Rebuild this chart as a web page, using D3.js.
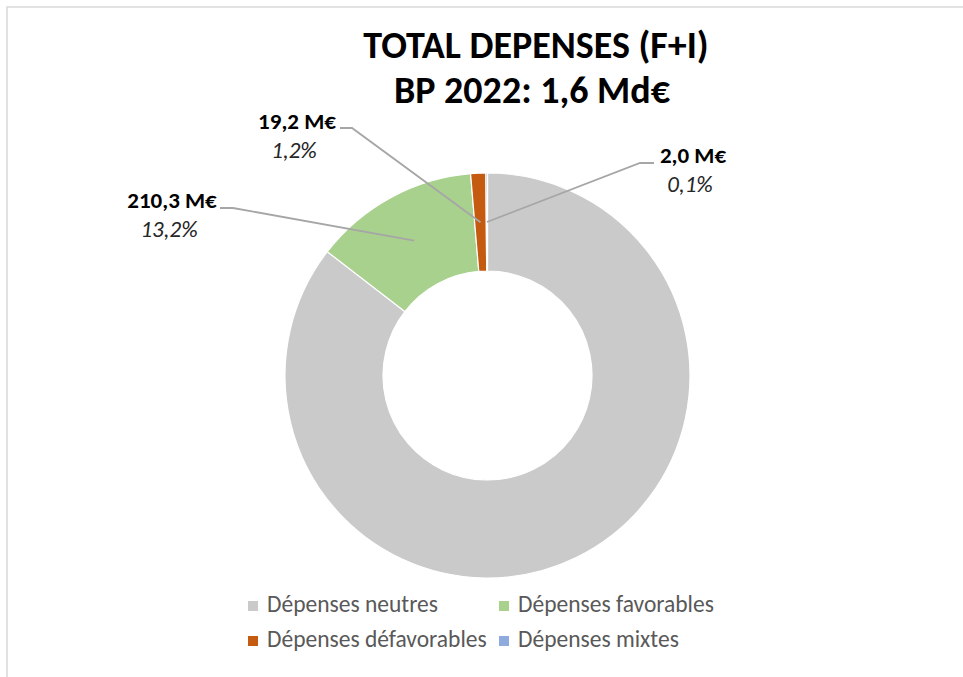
<!DOCTYPE html>
<html>
<head>
<meta charset="utf-8">
<script src="https://cdn.jsdelivr.net/npm/d3@7"></script>
<style>
  html, body { margin: 0; padding: 0; background: #fff; }
  svg { display: block; font-family: Carlito, Calibri, Lato, sans-serif; }
</style>
</head>
<body>
<div class="chart"></div>
<script>
// chart data
const categories = ["Dépenses neutres", "Dépenses favorables", "Dépenses défavorables", "Dépenses mixtes"];
const amounts = [1362.0, 210.3, 19.2, 2.0]; // M€
const amountLabels = ["", "210,3 M€", "19,2 M€", "2,0 M€"];
const percentLabels = ["", "13,2%", "1,2%", "0,1%"];
const colors = ["#cacaca", "#a9d18e", "#c55a11", "#8faadc"];
const titleLines = ["TOTAL DEPENSES (F+I)", "BP 2022: 1,6 Md€"];

const width = 963, height = 677;
const cx = 487.5, cy = 375.5;
const outerR = 202.5, innerR = 104.5;

// where each data label sits (center x, baseline of the first line) and where its leader elbows
const labelPos = [
  null,
  { x: 172, y: 208, elbowX: 233, lineX: 220, lineY: 208 },
  { x: 297, y: 129, elbowX: 352, lineX: 340, lineY: 128 },
  { x: 693, y: 163, elbowX: 640, lineX: 654, lineY: 163 }
];

const svg = d3.select(".chart")
  .append("svg")
  .attr("width", width)
  .attr("height", height);

// chart area border
svg.append("rect")
  .attr("x", 7)
  .attr("y", 7)
  .attr("width", width + 20)
  .attr("height", height + 20)
  .attr("fill", "none")
  .attr("stroke", "#d9d9d9")
  .attr("stroke-width", 1.5);

// title
svg.append("text")
  .attr("x", 536)
  .attr("y", 58)
  .attr("text-anchor", "middle")
  .attr("font-size", 38)
  .attr("font-weight", "bold")
  .attr("fill", "#000")
  .text(titleLines[0]);

svg.append("text")
  .attr("x", 532)
  .attr("y", 103)
  .attr("text-anchor", "middle")
  .attr("font-size", 38)
  .attr("font-weight", "bold")
  .attr("fill", "#000")
  .text(titleLines[1]);

const dataset = categories.map((c, i) => ({
  name: c,
  value: amounts[i],
  color: colors[i],
  index: i
}));

const pie = d3.pie()
  .sort(null)
  .value((d) => d.value);

const arc = d3.arc()
  .innerRadius(innerR)
  .outerRadius(outerR);

const arcs = pie(dataset);

const g = svg.append("g")
  .attr("transform", `translate(${cx},${cy})`);

g.selectAll(".slice")
  .data(arcs)
  .enter()
  .append("path")
  .attr("class", "slice")
  .attr("d", arc)
  .attr("fill", (d) => d.data.color)
  .attr("stroke", "#fff")
  .attr("stroke-width", 1.2)
  .attr("stroke-linejoin", "round");

// leader lines + labels
const labelled = arcs.filter((d) => labelPos[d.data.index]);

svg.selectAll(".leader")
  .data(labelled)
  .enter()
  .append("polyline")
  .attr("class", "leader")
  .attr("fill", "none")
  .attr("stroke", "#a6a6a6")
  .attr("stroke-width", 1.8)
  .attr("points", (d) => {
    const p = labelPos[d.data.index];
    const [ax, ay] = arc.centroid(d);
    return [[p.lineX, p.lineY], [p.elbowX, p.lineY], [cx + ax, cy + ay]].map((q) => q.join(",")).join(" ");
  });

labelled.forEach((d) => {
  const i = d.data.index;
  const p = labelPos[i];
  svg.append("text")
    .attr("x", p.x)
    .attr("y", p.y)
    .attr("text-anchor", "middle")
    .attr("font-size", 23)
    .attr("font-weight", "bold")
    .attr("fill", "#000")
    .text(amountLabels[i]);
  svg.append("text")
    .attr("x", p.x - 3)
    .attr("y", p.y + 29)
    .attr("text-anchor", "middle")
    .attr("font-size", 23)
    .attr("font-style", "italic")
    .attr("fill", "#262626")
    .text(percentLabels[i]);
});

// legend, two per row
const legendCols = [248, 499];
const legendRows = [612, 647];

const legend = svg.selectAll(".legend-item")
  .data(dataset)
  .enter()
  .append("g")
  .attr("class", "legend-item")
  .attr("transform", (d, i) => `translate(${legendCols[i % 2]},${legendRows[Math.floor(i / 2)]})`);

legend.append("rect")
  .attr("x", 0)
  .attr("y", -11)
  .attr("width", 10)
  .attr("height", 10)
  .attr("fill", (d) => d.color);

legend.append("text")
  .attr("x", 19)
  .attr("y", 0)
  .attr("font-size", 23.5)
  .attr("fill", "#595959")
  .text((d) => d.name);
</script>
</body>
</html>
